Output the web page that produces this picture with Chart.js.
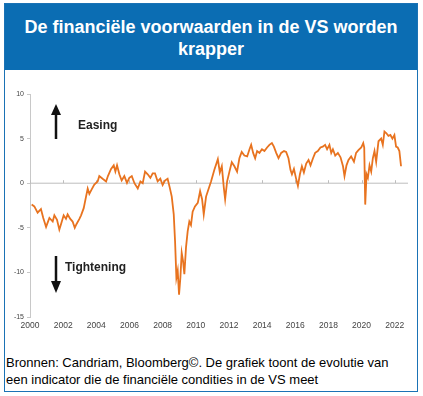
<!DOCTYPE html>
<html>
<head>
<meta charset="utf-8">
<script src="https://cdn.jsdelivr.net/npm/chart.js@4"></script>
<style>
  body { margin: 0; background: #fff; font-family: Arial, "Liberation Sans", sans-serif; }
  #card { position: absolute; left: 4px; top: 3px; width: 412px; height: 387px; border: 1.5px solid #1a72b5; }
  #title { position: absolute; left: 0; top: 0; width: 412px; height: 66px; background: #0b6db3;
           color: #fff; font-weight: bold; font-size: 18px; line-height: 22px; text-align: center;
           padding-top: 12px; box-sizing: border-box; }
  #wrap { position: absolute; left: 0; top: 69px; }
  #note { position: absolute; left: 1px; top: 350px; font-size: 13px; line-height: 17px; color: #000; }
</style>
</head>
<body>
<div id="card">
  <div id="title">De financiële voorwaarden in de VS worden<br>krapper</div>
  <div id="wrap"><canvas id="chart" width="414" height="266"></canvas></div>
  <div id="note">Bronnen: Candriam, Bloomberg©. De grafiek toont de evolutie van<br>een indicator die de financiële condities in de VS meet</div>
</div>
<script>
// data (decimaal jaartal, indexwaarde)
const dates = [
  2000.1, 2000.26, 2000.46, 2000.66, 2000.8, 2000.97, 2001.17, 2001.37, 2001.47, 2001.63,
  2001.77, 2001.87, 2002.03, 2002.17, 2002.27, 2002.43, 2002.57, 2002.7, 2002.8, 2002.98,
  2003.08, 2003.24, 2003.38, 2003.48, 2003.58, 2003.72, 2003.88, 2004.08, 2004.18, 2004.38,
  2004.59, 2004.7, 2004.89, 2005.05, 2005.15, 2005.25, 2005.39, 2005.53, 2005.69, 2005.85,
  2005.99, 2006.14, 2006.3, 2006.5, 2006.66, 2006.8, 2006.94, 2007.1, 2007.26, 2007.4,
  2007.54, 2007.7, 2007.86, 2008.0, 2008.14, 2008.3, 2008.43, 2008.55, 2008.67, 2008.75,
  2008.83, 2008.91, 2008.99, 2009.07, 2009.15, 2009.23, 2009.31, 2009.41, 2009.51, 2009.61,
  2009.71, 2009.81, 2009.95, 2010.12, 2010.26, 2010.38, 2010.48, 2010.62, 2010.76, 2010.92,
  2011.12, 2011.33, 2011.45, 2011.57, 2011.69, 2011.77, 2011.89, 2012.03, 2012.17, 2012.33,
  2012.49, 2012.63, 2012.77, 2012.93, 2013.1, 2013.24, 2013.34, 2013.46, 2013.58, 2013.7,
  2013.84, 2013.99, 2014.14, 2014.3, 2014.44, 2014.59, 2014.71, 2014.85, 2014.99, 2015.15,
  2015.32, 2015.45, 2015.59, 2015.71, 2015.8, 2015.92, 2016.04, 2016.16, 2016.28, 2016.4,
  2016.52, 2016.66, 2016.8, 2016.92, 2017.07, 2017.2, 2017.36, 2017.52, 2017.66, 2017.8,
  2017.92, 2018.06, 2018.17, 2018.27, 2018.41, 2018.57, 2018.73, 2018.88, 2018.97, 2019.09,
  2019.21, 2019.37, 2019.54, 2019.67, 2019.81, 2019.98, 2020.1, 2020.16, 2020.22, 2020.3,
  2020.38, 2020.48, 2020.58, 2020.68, 2020.78, 2020.88, 2021.02, 2021.18, 2021.28, 2021.38,
  2021.5, 2021.62, 2021.74, 2021.86, 2021.98, 2022.08, 2022.18, 2022.28, 2022.38
];
const values = [
  -2.4, -2.6, -3.3, -2.9, -3.9, -4.9, -3.9, -4.3, -3.6, -4.1,
  -5.2, -4.6, -3.6, -4.0, -3.5, -4.0, -4.3, -5.0, -4.6, -4.0,
  -3.6, -2.8, -1.5, -0.6, -1.2, -0.7, -0.15, 0.2, 0.8, 0.5,
  0.2, 0.8, 1.6, 2.0, 1.3, 2.0, 1.0, 0.3, 0.8, 0.04,
  0.6, 0.8, 0.0, -0.6, 0.2, 0.0, 1.3, 1.0, 0.6, 1.1,
  1.1, 0.2, 0.5, -0.2, 0.3, 0.5, -0.5, -1.5, -3.5, -6.5,
  -10.6, -9.8, -12.5, -10.6, -7.8, -8.7, -10.2, -7.2, -5.4, -4.3,
  -4.7, -3.2, -2.6, -2.2, -0.9, -1.8, -3.5, -1.5, -0.7, 0.2,
  1.5, 2.7, 1.2, 1.9, -0.5, -1.8, 0.2, 1.3, 2.35, 1.9,
  1.3, 2.8, 3.5, 3.1, 3.0, 3.8, 4.3, 3.4, 2.8, 3.6,
  3.4, 3.8, 3.6, 4.0, 4.3, 4.5, 4.1, 3.4, 2.8, 3.4,
  3.6, 3.5, 2.8, 1.5, 1.0, 1.6, 0.6, -0.3, 1.0, 1.9,
  1.2, 2.2, 2.6, 2.0, 2.8, 3.4, 3.6, 4.0, 4.1, 4.3,
  3.8, 4.3, 3.4, 3.8, 3.1, 3.4, 2.9, 1.9, 0.8, 2.0,
  2.6, 3.0, 2.4, 3.4, 3.7, 4.0, 4.5, 4.0, -2.4, 1.0,
  0.6, 2.0, 1.3, 2.8, 3.6, 2.4, 4.7, 5.0, 4.3, 5.8,
  5.6, 5.3, 5.4, 5.0, 5.4, 4.1, 4.0, 3.6, 1.9
];
const yearTicks = [2000, 2002, 2004, 2006, 2008, 2010, 2012, 2014, 2016, 2018, 2020, 2022];
const valueTicks = [-15, -10, -5, 0, 5, 10];

const points = dates.map((d, i) => ({ x: d, y: values[i] }));

// nullijn + kleine streepjes, en de pijlen met tekst
const extras = {
  id: 'extras',
  beforeDatasetsDraw(chart) {
    const { ctx, chartArea, scales } = chart;
    const y0 = scales.y.getPixelForValue(0);
    ctx.save();
    ctx.strokeStyle = '#bdbdbd';
    ctx.lineWidth = 1;
    ctx.beginPath();
    ctx.moveTo(chartArea.left, y0);
    ctx.lineTo(chartArea.right, y0);
    yearTicks.forEach(t => {
      const x = Math.round(scales.x.getPixelForValue(t)) + 0.5;
      ctx.moveTo(x, y0);
      ctx.lineTo(x, y0 - 3);
    });
    ctx.stroke();
    ctx.restore();
  },
  afterDraw(chart) {
    const ctx = chart.ctx;
    ctx.save();
    ctx.fillStyle = '#111';
    ctx.strokeStyle = '#111';
    ctx.lineWidth = 2.5;
    // pijl omhoog
    ctx.beginPath(); ctx.moveTo(51, 66); ctx.lineTo(51, 40); ctx.stroke();
    ctx.beginPath(); ctx.moveTo(46, 42); ctx.lineTo(51, 31); ctx.lineTo(56, 42); ctx.closePath(); ctx.fill();
    // pijl omlaag
    ctx.beginPath(); ctx.moveTo(51, 183); ctx.lineTo(51, 210); ctx.stroke();
    ctx.beginPath(); ctx.moveTo(46, 208); ctx.lineTo(51, 220); ctx.lineTo(56, 208); ctx.closePath(); ctx.fill();
    ctx.font = 'bold 12px Arial, "Liberation Sans"';
    ctx.textBaseline = 'middle';
    ctx.fillStyle = '#222';
    ctx.fillText('Easing', 73, 53);
    ctx.fillText('Tightening', 60, 195);
    ctx.restore();
  }
};

new Chart(document.getElementById('chart'), {
  type: 'line',
  data: {
    datasets: [{
      data: points,
      borderColor: '#e8731f',
      borderWidth: 1.8,
      pointRadius: 0,
      tension: 0
    }]
  },
  options: {
    responsive: false,
    animation: false,
    layout: { padding: { left: 0, right: 11, top: 21, bottom: 0 } },
    plugins: { legend: { display: false }, tooltip: { enabled: false } },
    scales: {
      x: {
        type: 'linear',
        min: 2000,
        max: 2022.8,
        afterBuildTicks: s => { s.ticks = yearTicks.map(v => ({ value: v })); },
        afterFit: s => { s.height = 22; },
        grid: { display: false, drawTicks: false },
        border: { display: false },
        ticks: {
          padding: 4, color: '#444', maxRotation: 0, autoSkip: false,
          font: { size: 8.5, family: 'Arial, "Liberation Sans"' },
          callback: v => String(v)
        }
      },
      y: {
        min: -15,
        max: 10,
        afterBuildTicks: s => { s.ticks = valueTicks.map(v => ({ value: v })); },
        afterFit: s => { s.width = 25; },
        grid: { drawOnChartArea: false, tickLength: 3, color: '#c8c8c8' },
        border: { color: '#c8c8c8' },
        ticks: { padding: 3, color: '#444', font: { size: 7, family: 'Arial, "Liberation Sans"' } }
      }
    }
  },
  plugins: [extras]
});
</script>
</body>
</html>
